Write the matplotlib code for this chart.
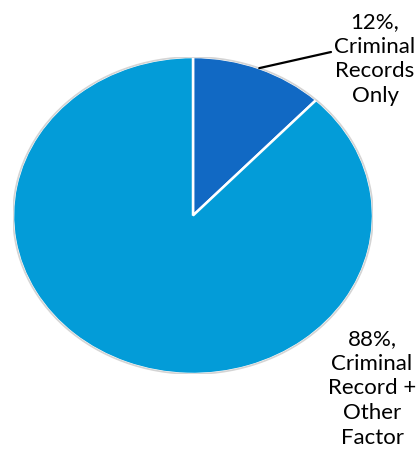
import numpy as np
import matplotlib
matplotlib.use("Agg")
import matplotlib.pyplot as plt
from matplotlib.patches import Circle

# share of records by reason
labels = ["12%,\nCriminal\nRecords\nOnly", "88%,\nCriminal\nRecord +\nOther\nFactor"]
shares = [12, 88]
colors = ["#1169C4", "#039CD8"]

W, H = 419, 450
fig = plt.figure(figsize=(W / 100, H / 100), dpi=100)
plt.rcParams["font.family"] = ["Lato", "DejaVu Sans"]

# pie is stretched wider than tall, so the axes box sets the ellipse
cx, cy, rx, ry = 193, 215.5, 180, 158.5
ax = fig.add_axes([(cx - rx) / W, 1 - (cy + ry) / H, 2 * rx / W, 2 * ry / H])

wedges, _ = ax.pie(shares, colors=colors, startangle=90, counterclock=False,
                   radius=1, wedgeprops=dict(edgecolor="white", linewidth=1.8))
ax.add_patch(Circle((0, 0), 1.0, fill=False, edgecolor="#d4d4d4", linewidth=1.2))
ax.set_aspect("auto")
ax.set_xlim(-1, 1)
ax.set_ylim(-1, 1)
ax.axis("off")

# leader line from middle of the small slice
mid = np.deg2rad(90 - shares[0] / sum(shares) * 360 / 2)
ax.annotate("", xy=(np.cos(mid), np.sin(mid)), xycoords="data",
            xytext=(331 / W, 1 - 52 / H), textcoords="figure fraction",
            arrowprops=dict(arrowstyle="-", color="black", lw=1.6,
                            shrinkA=0, shrinkB=0))

fig.text(375 / W, 1 - 59 / H, labels[0], ha="center", va="center",
         fontsize=16, linespacing=1.3)
fig.text(372 / W, 1 - 388.5 / H, labels[1], ha="center", va="center",
         fontsize=16, linespacing=1.3)

fig.savefig("out.png", dpi=100)
